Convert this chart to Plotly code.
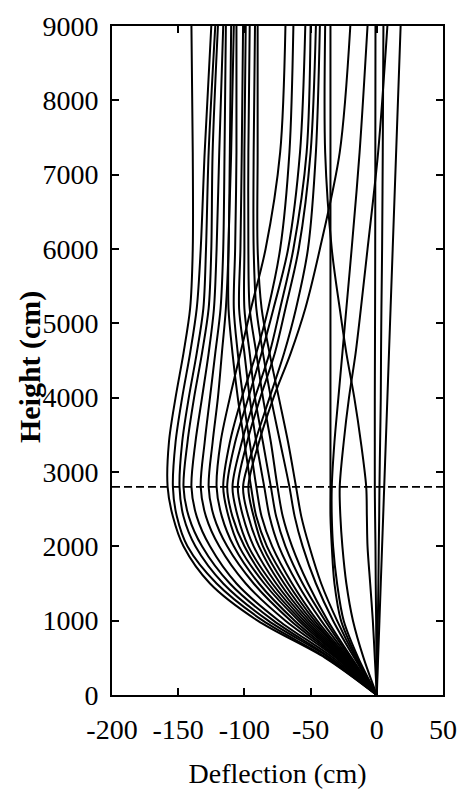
import plotly.graph_objects as go

# Heights (cm) at which each deflection profile is read
heights = [0, 500, 1000, 1500, 2000, 2400, 2800, 3400, 4000, 4600, 5200, 6000, 7300, 9000]

# Deflection profiles (cm)
B1 = [0, -39, -90, -126, -146, -154, -158, -157, -152, -146, -141, -139, -139, -140]
B2 = [0, -38, -86, -121, -143, -151, -154, -152, -147, -141, -136, -133, -130, -125]
B3 = [0, -36, -82, -116, -137, -146, -149, -147, -142, -136, -131, -129, -127, -122]
B4 = [0, -35, -78, -111, -132, -142, -146, -143, -138, -132, -127, -125, -124, -120]
B5 = [0, -33, -74, -106, -126, -136, -140, -137, -132, -127, -123, -121, -119, -116]
B6 = [0, -31, -69, -99, -119, -129, -133, -130, -126, -122, -118, -116, -115, -114]
B7 = [0, -30, -65, -93, -113, -123, -127, -124, -120, -117, -114, -112, -111, -110]
M1 = [0, -29, -62, -89, -108, -117, -121, -118, -111, -103, -95, -84, -73, -69]
M2 = [0, -28, -59, -85, -104, -112, -116, -111, -102, -91, -82, -73, -66, -63]
M3 = [0, -27, -57, -82, -100, -109, -113, -107, -97, -87, -78, -67, -58, -54]
M4 = [0, -26, -55, -79, -97, -105, -109, -102, -92, -81, -73, -63, -53, -50]
M5 = [0, -25, -53, -76, -93, -101, -105, -98, -88, -77, -69, -59, -50, -46]
M6 = [0, -24, -51, -73, -89, -97, -101, -92, -81, -70, -61, -52, -46, -43]
A1 = [0, -23, -49, -70, -86, -93, -97, -89, -78, -65, -54, -43, -28, -20]
X1 = [0, -23, -47, -67, -83, -91, -95, -100, -105, -109, -112, -112, -110, -108]
X2 = [0, -22, -45, -64, -79, -87, -91, -96, -101, -105, -108, -107, -106, -106]
X3 = [0, -21, -42, -60, -74, -81, -85, -91, -96, -100, -104, -103, -102, -101]
X4 = [0, -20, -39, -56, -69, -76, -80, -86, -92, -96, -100, -100, -100, -99]
X5 = [0, -19, -37, -52, -64, -71, -75, -80, -86, -91, -96, -97, -97, -96]
X6 = [0, -17, -33, -46, -56, -62, -66, -73, -80, -86, -91, -93, -93, -92]
X7 = [0, -16, -30, -42, -51, -57, -61, -67, -74, -81, -87, -90, -90, -90]
R4 = [0, -15, -27, -32, -34, -35, -35, -35, -35, -35, -35, -35, -35, -35]
R5 = [0, -14, -25, -30, -33, -34, -34, -32, -29, -26, -23, -19, -13, -7]
R6 = [0, -10, -18, -23, -26, -27.5, -28, -25, -21, -16, -12, -7, 1, 8]
P1 = [0, -1.5, -3, -5, -7, -7.5, -8, -12, -17, -23, -28, -34, -39, -39]
R3 = [0, -0.3, -0.5, -0.8, -1, -1.3, -1.5, -1.5, -1.5, -1.4, -1.3, -1.2, -1.1, -1]
R2 = [0, 0.4, 0.8, 1.2, 1.5, 1.8, 2, 2.5, 3, 3.2, 3.5, 4, 4.5, 5]
R1 = [0, 1, 2, 3, 4, 4.8, 5.6, 6.8, 8, 9.2, 10.4, 12, 14.6, 18]

profiles = [B1, B2, B3, B4, B5, B6, B7, M1, M2, M3, M4, M5, M6, A1,
            X1, X2, X3, X4, X5, X6, X7, R4, R5, R6, P1, R3, R2, R1]

# Reference level (dashed)
ref_x = [-200, 50]
ref_y = [2800, 2800]

x_ticks = [-200, -150, -100, -50, 0, 50]
x_labels = ["-200", "-150", "-100", "-50", "0", "50"]
y_ticks = [0, 1000, 2000, 3000, 4000, 5000, 6000, 7000, 8000, 9000]
y_labels = [str(v) for v in y_ticks]

fig = go.Figure()
for prof in profiles:
    fig.add_trace(go.Scatter(x=prof, y=heights, mode="lines",
                             line=dict(color="black", width=2, shape="spline", smoothing=0.9),
                             hoverinfo="skip"))
fig.add_trace(go.Scatter(x=ref_x, y=ref_y, mode="lines",
                         line=dict(color="black", width=1.6, dash="8px,4px"),
                         hoverinfo="skip"))

font_family = "Liberation Serif"
fig.update_layout(
    width=461, height=793,
    margin=dict(l=112, r=18, t=26, b=98),
    paper_bgcolor="white", plot_bgcolor="white",
    showlegend=False,
    font=dict(family=font_family, color="black", size=28),
    annotations=[dict(
        text="<b>Height (cm)</b>", textangle=-90,
        xref="paper", yref="paper", x=-0.248, y=0.49,
        xanchor="center", yanchor="middle", showarrow=False,
        font=dict(family=font_family, size=30, color="black"),
    )],
)
fig.update_xaxes(
    range=[-200, 50], tickvals=x_ticks, ticktext=x_labels,
    ticks="inside", ticklen=7, tickwidth=2, tickcolor="black",
    showline=True, linewidth=2, linecolor="black", mirror="ticks",
    showgrid=False, zeroline=False, automargin=False,
    tickfont=dict(family=font_family, size=28, color="black"),
    ticklabelstandoff=8,
    title=dict(text="Deflection (cm)", font=dict(family=font_family, size=28, color="black"), standoff=20),
)
fig.update_yaxes(
    range=[0, 9000], tickvals=y_ticks, ticktext=y_labels,
    ticks="inside", ticklen=7, tickwidth=2, tickcolor="black",
    showline=True, linewidth=2, linecolor="black", mirror="ticks",
    showgrid=False, zeroline=False, automargin=False,
    tickfont=dict(family=font_family, size=28, color="black"),
    ticklabelstandoff=6,
)

fig.write_html("out.html")
